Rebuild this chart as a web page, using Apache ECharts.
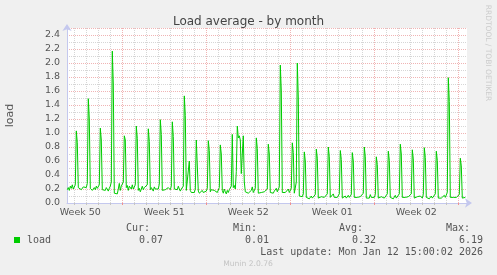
<!DOCTYPE html>
<html><head><meta charset="utf-8">
<script src="https://cdn.jsdelivr.net/npm/echarts@6/dist/echarts.min.js"></script>
<style>html,body{margin:0;padding:0;background:#f0f0f0;}#c{width:497px;height:275px;}</style>
</head><body><div id="c"></div>
<script>
// time axis in hours since 2025-12-10 00:00; samples every 2 hours from Dec 10 10:00
const startHour = 10;
const stepHours = 2;
const axisMinHour = 9.4;
const axisMaxHour = 809.4;

const week50 = [
  0.19,0.22,0.18,0.24,0.21,0.26,0.20,
  0.22,0.26,1.03,0.86,0.22,0.20,0.24,0.19,0.20,0.23,0.21,0.25,
  0.22,0.28,1.49,1.20,0.21,0.23,0.18,0.20,0.22,0.19,0.24,0.21,
  0.20,0.26,1.07,0.90,0.19,0.17,0.20,0.18,0.22,0.20,0.17,0.21,
  0.24,0.30,2.17,1.70,0.14,0.12,0.16,0.13,0.20,0.28,0.18,0.24
];
const week51 = [
  0.22,0.30,0.96,0.90,0.22,0.25,0.18,0.24,0.22,0.20,0.26,0.20,
  0.20,0.26,1.10,0.92,0.18,0.21,0.16,0.20,0.24,0.19,0.22,0.20,
  0.21,0.26,1.06,0.88,0.19,0.22,0.20,0.17,0.23,0.20,0.21,0.19,
  0.20,0.27,1.19,0.98,0.18,0.20,0.17,0.19,0.20,0.18,0.22,0.21,
  0.19,0.24,1.16,0.95,0.20,0.18,0.21,0.19,0.24,0.20,0.17,0.20,
  0.20,0.24,1.53,1.25,0.18,0.20,0.19,0.60,0.18,0.15,0.17,0.16,
  0.15,0.20,0.90,0.90,0.17,0.14,0.15,0.16,0.18,0.15,0.17,0.16
];
const week52 = [
  0.17,0.21,0.89,0.75,0.16,0.19,0.17,0.20,0.18,0.16,0.19,0.15,
  0.16,0.22,0.83,0.70,0.18,0.14,0.20,0.16,0.13,0.18,0.15,0.19,
  0.20,0.24,0.98,0.22,0.25,0.20,0.45,1.10,0.93,0.96,0.90,0.42,
  0.70,0.96,0.30,0.16,0.15,0.17,0.14,0.16,0.15,0.18,0.23,0.15,
  0.16,0.21,0.93,0.78,0.14,0.16,0.13,0.15,0.17,0.14,0.16,0.15,
  0.15,0.20,0.84,0.70,0.15,0.13,0.16,0.14,0.17,0.15,0.21,0.16,
  0.17,0.23,1.97,1.60,0.15,0.14,0.16,0.15,0.13,0.16,0.20,0.15
];
const week01 = [
  0.15,0.21,0.86,0.72,0.14,0.15,0.30,2.00,1.50,0.10,0.10,0.09,
  0.09,0.13,0.73,0.60,0.08,0.07,0.09,0.06,0.08,0.10,0.07,0.08,
  0.08,0.12,0.77,0.64,0.07,0.08,0.06,0.09,0.07,0.10,0.08,0.07,
  0.09,0.13,0.80,0.66,0.08,0.07,0.09,0.13,0.08,0.07,0.09,0.08,
  0.08,0.13,0.75,0.62,0.07,0.06,0.08,0.10,0.07,0.09,0.11,0.08,
  0.07,0.12,0.72,0.60,0.08,0.07,0.06,0.08,0.10,0.07,0.09,0.08,
  0.08,0.14,0.80,0.66,0.07,0.09,0.08,0.07,0.12,0.08,0.07,0.09
];
const week02 = [
  0.08,0.12,0.66,0.55,0.07,0.08,0.06,0.09,0.08,0.10,0.07,0.08,
  0.09,0.13,0.74,0.61,0.08,0.07,0.09,0.06,0.08,0.11,0.07,0.08,
  0.07,0.13,0.84,0.70,0.08,0.06,0.07,0.08,0.10,0.07,0.09,0.08,
  0.08,0.13,0.76,0.63,0.07,0.08,0.06,0.09,0.08,0.07,0.10,0.08,
  0.07,0.12,0.79,0.65,0.08,0.07,0.09,0.06,0.08,0.10,0.07,0.09,
  0.08,0.13,0.74,0.61,0.07,0.06,0.08,0.07,0.09,0.08,0.11,0.08,
  0.09,0.15,1.79,1.45,0.08,0.07,0.09,0.08,0.07,0.10,0.08,0.09,
  0.08,0.12,0.64,0.53,0.07,0.08,0.07,0.08
];

const weekLabels = ['Week 50','Week 51','Week 52','Week 01','Week 02'];
const weekCenters = [36, 204, 372, 540, 708];
const weekBounds = [120, 288, 456, 624, 792];
const dayBounds = [];
for (let h = 24; h <= 792; h += 24) dayBounds.push(h);

const legendName = 'load';
const statNames = ['Cur:','Min:','Avg:','Max:'];
const statValues = ['0.07','0.01','0.32','6.19'];
const lastUpdate = 'Last update: Mon Jan 12 15:00:02 2026';

const allValues = [].concat(week50, week51, week52, week01, week02);
const seriesData = allValues.map((v, i) => [startHour + i * stepHours, v]);

const GREEN = '#00cc00';
const RED_GRID = '#f0b4b4';
const GRAY_GRID = '#d6d6d6';
const AXIS_COL = '#c4c8ee';
const TXT = '#555555';

const chart = echarts.init(document.getElementById('c'), null, {renderer:'canvas'});

const statHeadRight = [150, 257, 363, 470];
const statValRight = [163, 269, 376, 483];
const graphics = [
  {type:'rect', shape:{x:14, y:237, width:6, height:6}, style:{fill:GREEN}},
  {type:'text', x:27, y:240, style:{text:legendName, font:'10px "DejaVu Sans Mono"', fill:TXT, textAlign:'left', textVerticalAlign:'middle', align:'left', verticalAlign:'middle'}},
  {type:'text', x:483, y:252, style:{text:lastUpdate, font:'10px "DejaVu Sans Mono"', fill:TXT, textAlign:'right', textVerticalAlign:'middle', align:'right', verticalAlign:'middle'}},
  {type:'text', x:248, y:264, style:{text:'Munin 2.0.76', font:'7.6px "DejaVu Sans"', fill:'#c4c4c4', textAlign:'center', textVerticalAlign:'middle', align:'center', verticalAlign:'middle'}},
  {type:'text', x:488, y:53, rotation:-Math.PI/2, style:{text:'RRDTOOL / TOBI OETIKER', font:'7.5px "DejaVu Sans"', fill:'#cccccc', textAlign:'center', textVerticalAlign:'middle', align:'center', verticalAlign:'middle'}}
];
statNames.forEach((n, i) => {
  graphics.push({type:'text', x:statHeadRight[i], y:228, style:{text:n, font:'10px "DejaVu Sans Mono"', fill:TXT, textAlign:'right', textVerticalAlign:'middle', align:'right', verticalAlign:'middle'}});
  graphics.push({type:'text', x:statValRight[i], y:240, style:{text:statValues[i], font:'10px "DejaVu Sans Mono"', fill:TXT, textAlign:'right', textVerticalAlign:'middle', align:'right', verticalAlign:'middle'}});
});

chart.setOption({
  backgroundColor:'#f0f0f0',
  animation:false,
  title:{text:'Load average - by month', left:'center', top:11,
    textStyle:{fontFamily:'DejaVu Sans', fontSize:12, fontWeight:'normal', color:'#444444'}},
  grid:{left:67, top:28, width:400, height:175, containLabel:false, outerBoundsMode:'none', backgroundColor:'#ffffff', show:true, borderWidth:0},
  xAxis:[{
    type:'value', min:axisMinHour, max:axisMaxHour,
    axisLine:{show:true, lineStyle:{color:AXIS_COL, width:1}, symbol:['none','arrow'], symbolSize:[7,7], symbolOffset:[0,5]},
    axisTick:{show:true, customValues:dayBounds, length:2, lineStyle:{color:'#c4c4c4'}},
    splitLine:{show:true, lineStyle:{color:GRAY_GRID, type:'dotted', width:1}},
    axisLabel:{show:false}
  },{
    type:'value', min:axisMinHour, max:axisMaxHour, position:'bottom',
    axisLine:{show:false},
    axisTick:{show:true, customValues:weekBounds, length:2, lineStyle:{color:'#f09090'}},
    splitLine:{show:true, lineStyle:{color:RED_GRID, type:'dotted', width:1}},
    axisLabel:{show:true, customValues:weekCenters, margin:5,
      formatter:(v)=>{const k = weekCenters.indexOf(Math.round(v)); return k>=0?weekLabels[k]:'';},
      fontFamily:'DejaVu Sans', fontSize:9.5, color:TXT, hideOverlap:false}
  }],
  yAxis:{
    type:'value', min:0, max:2.5, interval:0.2,
    name:'load', nameLocation:'middle', nameRotate:90, nameGap:51,
    nameTextStyle:{fontFamily:'DejaVu Sans', fontSize:11, color:TXT},
    axisLine:{show:true, lineStyle:{color:AXIS_COL, width:1}, symbol:['none','arrow'], symbolSize:[7,7], symbolOffset:[0,4]},
    axisTick:{show:false},
    axisLabel:{margin:7, fontFamily:'DejaVu Sans', fontSize:9.5, color:TXT, showMaxLabel:false,
      formatter:(v)=> v > 2.45 ? '' : v.toFixed(1)},
    splitLine:{show:true, lineStyle:{color:RED_GRID, type:'dotted', width:1}},
    minorTick:{show:false, splitNumber:2},
    minorSplitLine:{show:true, lineStyle:{color:GRAY_GRID, type:'dotted', width:1}}
  },
  series:[{
    type:'line', name:'load', xAxisIndex:0, data:seriesData, showSymbol:false, symbol:'none',
    sampling:null, lineStyle:{color:GREEN, width:1}, itemStyle:{color:GREEN}, z:5
  }],
  graphic:graphics
});
</script></body></html>
